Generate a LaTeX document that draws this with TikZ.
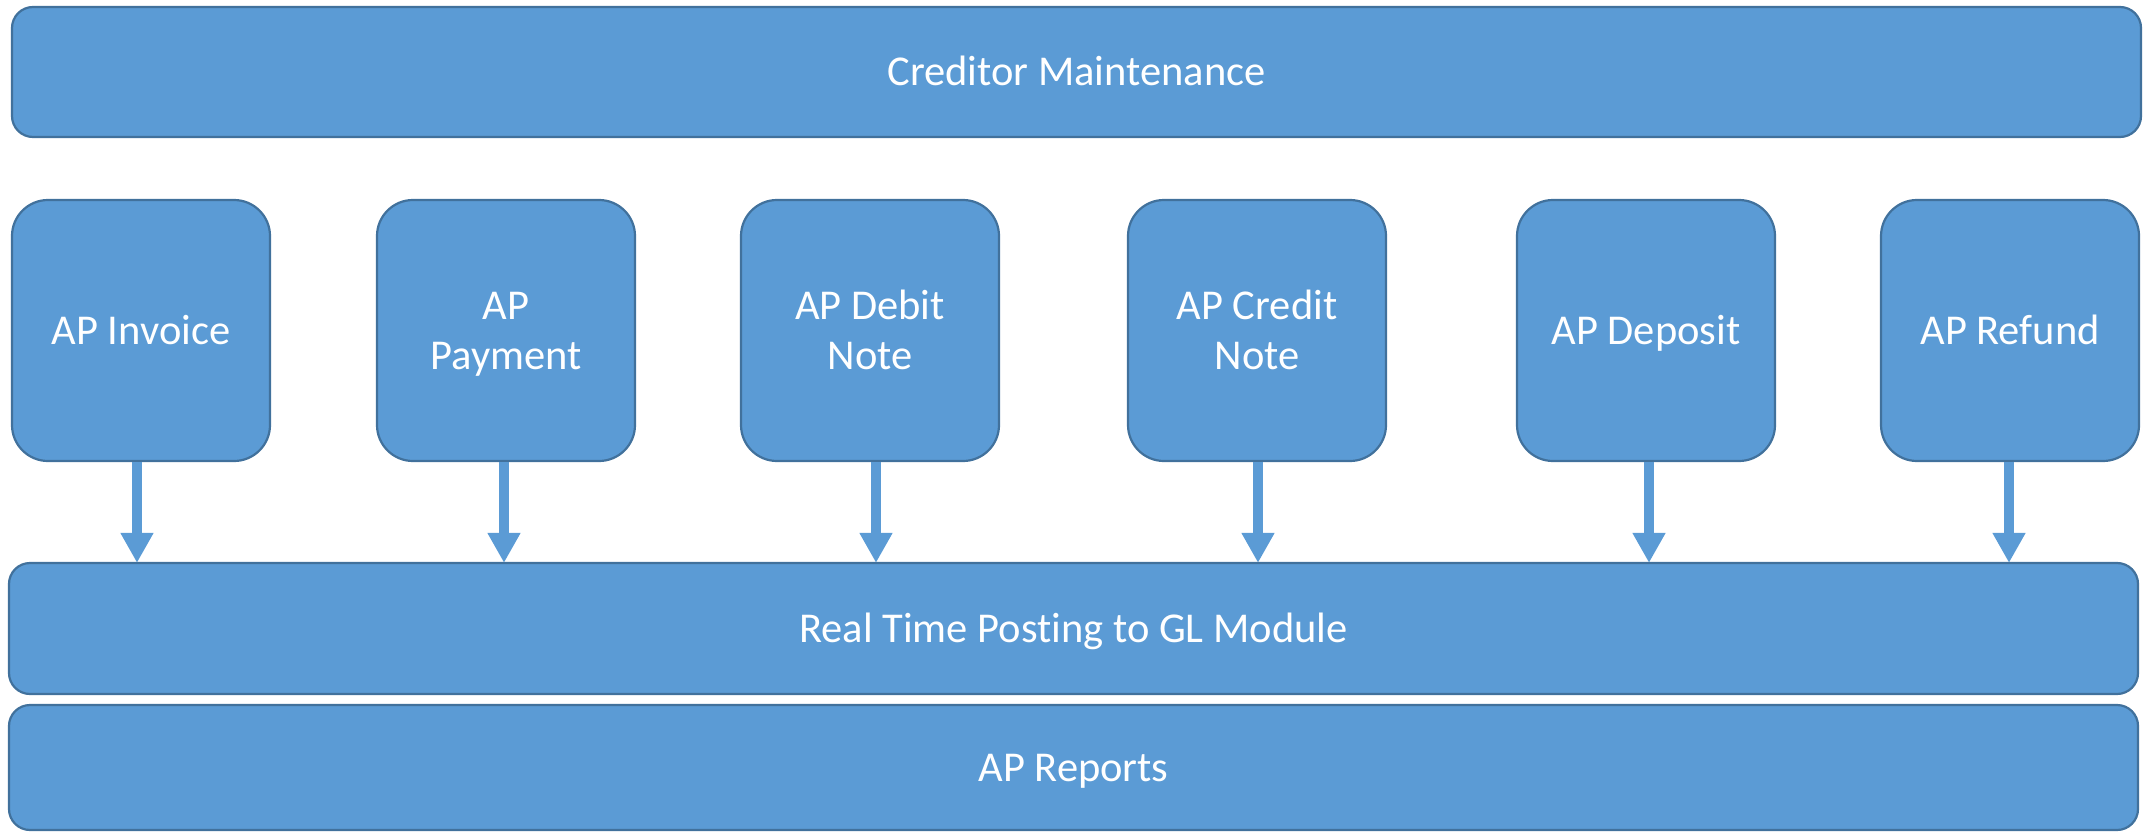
\documentclass[tikz,border=0pt]{standalone}
\usepackage{fontspec}
\setmainfont{Carlito}[Ligatures=NoCommon]
\usetikzlibrary{arrows.meta}
\definecolor{boxfill}{HTML}{5B9BD5}
\definecolor{boxline}{HTML}{41719C}
\newcommand\tstr{\rule[-10pt]{0pt}{47pt}}
\tikzset{
  bigbox/.style={draw=boxline, fill=boxfill, line width=2.2pt, rounded corners=21pt,
    inner sep=0pt, minimum width=2129pt, text=white, font=\fontsize{42.5}{50}\selectfont},
  smallbox/.style={draw=boxline, fill=boxfill, line width=2.2pt, rounded corners=36pt,
    inner sep=0pt, minimum width=258pt, minimum height=261pt, text=white, align=center,
    font=\fontsize{42.5}{50}\selectfont},
  arr/.style={draw=boxfill, line width=10pt, -{Triangle[width=31pt,length=30pt]}, shorten >=-1pt}
}
\begin{document}
\begin{tikzpicture}[x=1pt,y=-1pt]
\useasboundingbox (0,0) rectangle (2149,832);
\node[bigbox, minimum height=130pt] (cm) at (1076.5,72) {\tstr Creditor Maintenance};
\node[smallbox] (b1) at (141,330.5) {\tstr AP Invoice};
\node[smallbox] (b2) at (506,330.5) {\tstr AP\\\tstr Payment};
\node[smallbox] (b3) at (870,330.5) {\tstr AP Debit\\\tstr Note};
\node[smallbox] (b4) at (1257,330.5) {\tstr AP Credit\\\tstr Note};
\node[smallbox] (b5) at (1646,330.5) {\tstr AP Deposit};
\node[smallbox] (b6) at (2010,330.5) {\tstr AP Refund};
\node[bigbox, minimum height=131pt] (gl) at (1073.5,628.5) {\tstr Real Time Posting to GL Module};
\node[bigbox, minimum height=125pt] (rep) at (1073.5,767.5) {\tstr AP Reports};
\draw[arr] ([xshift=-4pt]b1.south) -- ([xshift=-4pt]b1.south |- gl.north);
\draw[arr] ([xshift=-2pt]b2.south) -- ([xshift=-2pt]b2.south |- gl.north);
\draw[arr] ([xshift=6pt]b3.south) -- ([xshift=6pt]b3.south |- gl.north);
\draw[arr] ([xshift=1pt]b4.south) -- ([xshift=1pt]b4.south |- gl.north);
\draw[arr] ([xshift=3pt]b5.south) -- ([xshift=3pt]b5.south |- gl.north);
\draw[arr] ([xshift=-1pt]b6.south) -- ([xshift=-1pt]b6.south |- gl.north);
\end{tikzpicture}
\end{document}
